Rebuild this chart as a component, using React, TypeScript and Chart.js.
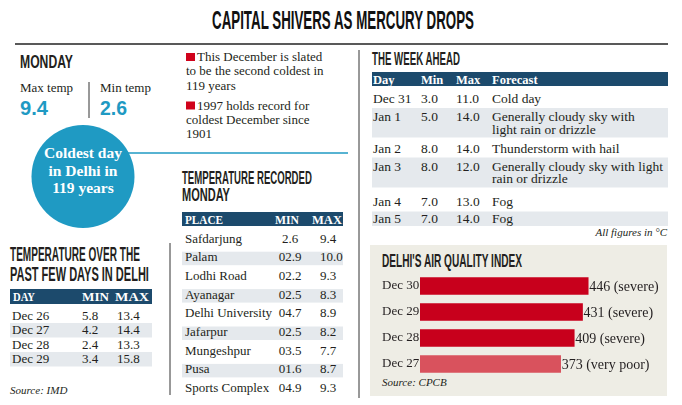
import React, { useEffect, useLayoutEffect, useRef, useState } from "react";
import { Chart, registerables } from "chart.js";

Chart.register(...registerables);

// ---------- data ----------
const aqiDays = ["Dec 30", "Dec 29", "Dec 28", "Dec 27"];
const aqiValues = [446, 431, 409, 373];
const aqiStatus = ["severe", "severe", "severe", "very poor"];

const mondayMax = "9.4";
const mondayMin = "2.6";

const bulletNotes = [
  ["This December is slated", "to be the second coldest in", "119 years"],
  ["1997 holds record for", "coldest December since", "1901"],
];

const pastDays = ["Dec 26", "Dec 27", "Dec 28", "Dec 29"];
const pastMin = ["5.8", "4.2", "2.4", "3.4"];
const pastMax = ["13.4", "14.4", "13.3", "15.8"];

const places = [
  "Safdarjung",
  "Palam",
  "Lodhi Road",
  "Ayanagar",
  "Delhi University",
  "Jafarpur",
  "Mungeshpur",
  "Pusa",
  "Sports Complex",
];
const placeMin = ["2.6", "02.9", "02.2", "02.5", "04.7", "02.5", "03.5", "01.6", "04.9"];
const placeMax = ["9.4", "10.0", "9.3", "8.3", "8.9", "8.2", "7.7", "8.7", "9.3"];

const weekDays = ["Dec 31", "Jan 1", "Jan 2", "Jan 3", "Jan 4", "Jan 5"];
const weekMin = ["3.0", "5.0", "8.0", "8.0", "7.0", "7.0"];
const weekMax = ["11.0", "14.0", "14.0", "12.0", "13.0", "14.0"];
const weekForecast = [
  ["Cold day"],
  ["Generally cloudy sky with", "light rain or drizzle"],
  ["Thunderstorm with hail"],
  ["Generally cloudy sky with light", "rain or drizzle"],
  ["Fog"],
  ["Fog"],
];

// ---------- styles ----------
const SERIF = '"Liberation Serif", "Times New Roman", serif';
const SANS = '"Liberation Sans", Arial, sans-serif';
const INK = "#231f20";
const NAVY = "#1c4a6c";
const TEAL = "#1f9ac3";
const SHADE = "#e5e9ed";
const PANEL = "#eeede5";
const RED = "#c8001c";
const LIGHT_RED = "#d9525d";
const BULLET = "#d0021b";

// layout of the week table (baselines and shaded bands)
const weekBaselines = [[103], [121, 133.5], [152.5], [170.5, 183], [205.5], [223]];
const weekBands: Record<number, [number, number]> = { 1: [108, 137.5], 3: [157.5, 187.5], 5: [211.5, 226] };

type TP = {
  x: number;
  y: number;
  s: number;
  b?: boolean;
  i?: boolean;
  a?: "start" | "middle" | "end";
  c?: string;
  f?: string;
  children: React.ReactNode;
};
function T({ x, y, s, b, i, a, c, f, children }: TP) {
  return (
    <text
      x={x}
      y={y}
      fontSize={s}
      fontFamily={f || SERIF}
      fontWeight={b ? "bold" : "normal"}
      fontStyle={i ? "italic" : "normal"}
      textAnchor={a || "start"}
      fill={c || INK}
    >
      {children}
    </text>
  );
}

// condensed text: measured, then squeezed horizontally to the target width
type CP = { x: number; y: number; s: number; w: number; b?: boolean; c?: string; f?: string; children: React.ReactNode };
function Cond({ x, y, s, w, b, c, f, children }: CP) {
  const ref = useRef<SVGTextElement>(null);
  const [k, setK] = useState(0.6);
  useLayoutEffect(() => {
    const el = ref.current;
    if (!el) return;
    const n = el.getComputedTextLength();
    if (n > 0) setK(w / n);
  }, [w, s]);
  return (
    <g transform={`translate(${x},${y}) scale(${k},1)`}>
      <text
        ref={ref}
        x={0}
        y={0}
        fontSize={s}
        fontFamily={f || SANS}
        fontWeight={b === false ? "normal" : "bold"}
        fill={c || INK}
      >
        {children}
      </text>
    </g>
  );
}

const valueLabels = {
  id: "valueLabels",
  afterDatasetsDraw(chart: any) {
    const ctx = chart.ctx;
    const meta = chart.getDatasetMeta(0);
    ctx.save();
    ctx.font = `14px ${SERIF}`;
    ctx.fillStyle = INK;
    ctx.textBaseline = "middle";
    ctx.textAlign = "left";
    meta.data.forEach((bar: any, idx: number) => {
      ctx.fillText(`${aqiValues[idx]} (${aqiStatus[idx]})`, bar.x + 1, bar.y + 1);
    });
    ctx.restore();
  },
};

function AqiChart() {
  const ref = useRef<HTMLCanvasElement>(null);
  useEffect(() => {
    const chart = new Chart(ref.current as HTMLCanvasElement, {
      type: "bar",
      data: {
        labels: aqiDays,
        datasets: [
          {
            data: aqiValues,
            backgroundColor: aqiStatus.map((s) => (s === "severe" ? RED : LIGHT_RED)),
            borderWidth: 0,
            barThickness: 17,
          },
        ],
      },
      options: {
        indexAxis: "y",
        animation: false,
        responsive: false,
        maintainAspectRatio: false,
        layout: { padding: 0 },
        plugins: { legend: { display: false }, tooltip: { enabled: false } },
        scales: {
          x: { display: false, min: 0, max: 655 },
          y: {
            grid: { display: false, drawTicks: false },
            border: { display: false },
            ticks: {
              crossAlign: "far",
              padding: 0,
              color: INK,
              font: { family: SERIF, size: 13 },
            },
            afterFit: (s: any) => {
              s.width = 38;
              s.paddingTop = 0;
              s.paddingBottom = 0;
            },
          },
        },
      } as any,
      plugins: [valueLabels],
    });
    return () => chart.destroy();
  }, []);
  return (
    <canvas
      ref={ref}
      width={285}
      height={104}
      style={{ position: "absolute", left: 382, top: 273, width: 285, height: 104 }}
    />
  );
}

export default function App() {
  return (
    <div style={{ position: "relative", width: 682, height: 405, background: "#fff", overflow: "hidden" }}>
      <style>{"body{margin:0}"}</style>
      <svg width={682} height={405} style={{ position: "absolute", left: 0, top: 0 }}>
        {/* title */}
        <Cond x={212} y={29} s={26} w={262} c="#111">
          CAPITAL SHIVERS AS MERCURY DROPS
        </Cond>
        <line x1={15} y1={44} x2={668} y2={44} stroke="#222" strokeWidth={1.5} />

        {/* Monday block */}
        <Cond x={20} y={68} s={18.5} w={53}>MONDAY</Cond>
        <T x={20} y={92} s={13}>Max temp</T>
        <T x={100} y={92} s={13}>Min temp</T>
        <Cond x={20} y={115} s={21} w={28} c={TEAL}>{mondayMax}</Cond>
        <Cond x={100} y={115} s={21} w={27} c={TEAL}>{mondayMin}</Cond>
        <line x1={89} y1={82} x2={89} y2={118} stroke="#333" strokeWidth={1} />

        <line x1={128} y1={153} x2={348} y2={153} stroke={TEAL} strokeWidth={1.5} />
        <circle cx={83} cy={176.5} r={51.5} fill={TEAL} />
        <T x={83} y={158} s={15.5} b a="middle" c="#fff">Coldest day</T>
        <T x={83} y={175.5} s={15.5} b a="middle" c="#fff">in Delhi in</T>
        <T x={83} y={193} s={15.5} b a="middle" c="#fff">119 years</T>

        {/* bullets */}
        {bulletNotes.map((lines, bi) => {
          const top = bi === 0 ? 61 : 109.5;
          return (
            <g key={bi}>
              <rect x={186} y={top - 8} width={9} height={8} fill={BULLET} />
              {lines.map((ln, li) => (
                <T key={li} x={li === 0 ? 197 : 186} y={top + li * 14.3} s={13}>
                  {ln}
                </T>
              ))}
            </g>
          );
        })}

        {/* separators */}
        <line x1={359} y1={50} x2={359} y2={398} stroke="#333" strokeWidth={1} />
        <line x1={170} y1={243} x2={170} y2={395} stroke="#333" strokeWidth={1} />

        {/* past few days table */}
        <Cond x={10} y={261} s={19.5} w={130}>TEMPERATURE OVER THE</Cond>
        <Cond x={10} y={280.5} s={19.5} w={139}>PAST FEW DAYS IN DELHI</Cond>
        <rect x={10} y={289} width={142} height={15} fill={NAVY} />
        <Cond x={13} y={301} s={13} w={22} f={SERIF} c="#fff">DAY</Cond>
        <Cond x={82} y={301} s={13} w={27} f={SERIF} c="#fff">MIN</Cond>
        <Cond x={115} y={301} s={13} w={34} f={SERIF} c="#fff">MAX</Cond>
        {pastDays.map((d, i) => {
          const top = 308.5 + i * 14.5;
          return (
            <g key={d}>
              {i % 2 === 1 && <rect x={10} y={top} width={142} height={14.5} fill={SHADE} />}
              <T x={12} y={top + 11} s={13}>{d}</T>
              <T x={82} y={top + 11} s={13}>{pastMin[i]}</T>
              <T x={117} y={top + 11} s={13}>{pastMax[i]}</T>
            </g>
          );
        })}
        <T x={10} y={394} s={11} i>Source: IMD</T>

        {/* recorded Monday table */}
        <Cond x={182} y={183.5} s={18.5} w={130}>TEMPERATURE RECORDED</Cond>
        <Cond x={182} y={200.5} s={18.5} w={48}>MONDAY</Cond>
        <rect x={182} y={212} width={161} height={14} fill={NAVY} />
        <Cond x={185} y={223.5} s={13} w={38} f={SERIF} c="#fff">PLACE</Cond>
        <Cond x={275} y={223.5} s={13} w={24} f={SERIF} c="#fff">MIN</Cond>
        <Cond x={312} y={223.5} s={13} w={30} f={SERIF} c="#fff">MAX</Cond>
        {places.map((p, i) => {
          const base = 242.5 + i * 18.7;
          return (
            <g key={p}>
              {i % 2 === 1 && <rect x={182} y={base - 9.5} width={161} height={13.5} fill={SHADE} />}
              <T x={185} y={base} s={13}>{p}</T>
              <T x={290} y={base} s={13} a="middle">{placeMin[i]}</T>
              <T x={320} y={base} s={13}>{placeMax[i]}</T>
            </g>
          );
        })}

        {/* week ahead */}
        <Cond x={372} y={65} s={17.5} w={88}>THE WEEK AHEAD</Cond>
        <rect x={372} y={72} width={296} height={14} fill={NAVY} />
        <T x={373} y={83.5} s={12.5} b c="#fff">Day</T>
        <T x={421} y={83.5} s={12.5} b c="#fff">Min</T>
        <T x={456} y={83.5} s={12.5} b c="#fff">Max</T>
        <T x={492} y={83.5} s={12.5} b c="#fff">Forecast</T>
        {weekDays.map((d, i) => {
          const band = weekBands[i];
          const bl = weekBaselines[i];
          return (
            <g key={d}>
              {band && <rect x={372} y={band[0]} width={296} height={band[1] - band[0]} fill={SHADE} />}
              <T x={373} y={bl[0]} s={13.5}>{d}</T>
              <T x={421} y={bl[0]} s={13.5}>{weekMin[i]}</T>
              <T x={456} y={bl[0]} s={13.5}>{weekMax[i]}</T>
              {weekForecast[i].map((ln, li) => (
                <T key={li} x={492} y={bl[li]} s={13.5}>{ln}</T>
              ))}
            </g>
          );
        })}
        <T x={667} y={235.5} s={11} i a="end">All figures in °C</T>

        {/* AQI panel */}
        <rect x={370} y={245} width={297} height={151} fill={PANEL} />
        <Cond x={382} y={267} s={17.5} w={140}>DELHI'S AIR QUALITY INDEX</Cond>
        <T x={382} y={386} s={11} i>Source: CPCB</T>
      </svg>
      <AqiChart />
    </div>
  );
}
